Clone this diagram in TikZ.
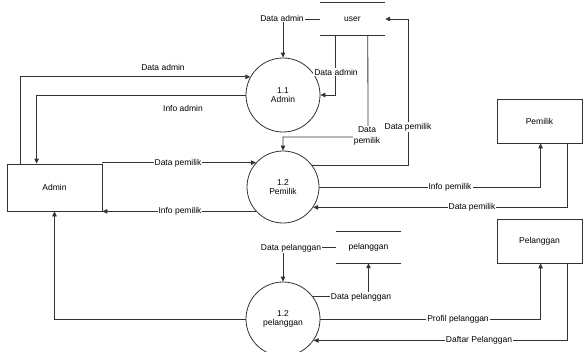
\documentclass[tikz,border=0pt]{standalone}
\usepackage{fontspec}
\setmainfont{Liberation Sans}
\usetikzlibrary{arrows.meta}
\definecolor{ink}{HTML}{333333}
\begin{document}
\begin{tikzpicture}[x=1pt,y=-1pt,
  font=\fontsize{8.5}{9.5}\selectfont,
  proc/.style={circle,draw=ink,line width=0.8pt,minimum size=#1,inner sep=0pt,align=center},
  entity/.style={rectangle,draw=ink,line width=0.8pt,minimum width=85pt,minimum height=44pt,inner sep=0pt},
  store/.style={rectangle,minimum width=65pt,minimum height=#1,inner sep=0pt},
  flow/.style={draw=ink,line width=0.8pt,-{Triangle[length=5pt,width=4.5pt]}},
  lbl/.style={fill=white,inner sep=1pt,align=center}]
\useasboundingbox (0,0) rectangle (583,351);

% processes
\node[proc=74pt] (c11) at (283,95)  {1.1\\Admin};
\node[proc=72pt] (c12) at (283,187) {1.2\\Pemilik};
\node[proc=74pt] (c13) at (283,319) {1.2\\pelanggan};

% external entities
\node[entity,minimum width=95pt,minimum height=47pt] (admin) at (54.5,187.5) {Admin};
\node[entity] (pemilik)   at (539.5,121) {Pemilik};
\node[entity] (pelanggan) at (539.5,241) {Pelanggan};

% data stores
\node[store=32pt] (userstore) at (352.5,19) {user};
\node[store=31pt] (pelstore)  at (368.5,247.5) {pelanggan};
\foreach \s in {userstore,pelstore}{
  \draw[ink,line width=0.8pt] (\s.north west) -- (\s.north east);
  \draw[ink,line width=0.8pt] (\s.south west) -- (\s.south east);
}

% flows of process 1.1
\draw[flow] (userstore.west) -| (c11.north);
\draw[flow] ([xshift=14pt]admin.north west) |- (c11.151);
\draw[flow] (c11.west) -| ([xshift=30pt]admin.north west);
\draw[flow] ([xshift=16pt]userstore.south west) |- (c11.east);

% flows of process 1.2 Pemilik
\coordinate (k5) at (368,137);
\draw[flow] ([xshift=48pt]userstore.south west) -- (k5) -| (c12.north);
\coordinate (k6) at (408,19);
\draw[flow] (c12.36) -| (k6) -- (userstore.east);
\draw[flow] (c12.138 -| admin.east) -- (c12.138);
\draw[flow] (c12.222) -- (c12.222 -| admin.east);
\draw[flow] (c12.east) -| ([xshift=44pt]pemilik.south west);
\draw[flow] ([xshift=71pt]pemilik.south west) |- (c12.326);

% flows of process 1.2 pelanggan
\draw[flow] (pelstore.west) -| (c13.north);
\draw[flow] (c13.37) -| (pelstore.south);
\draw[flow] (c13.east) -| ([xshift=44pt]pelanggan.south west);
\draw[flow] ([xshift=71pt]pelanggan.south west) |- (c13.325);
\draw[flow] (c13.west) -| (admin.south);

% flow labels
\node[lbl] (l1)  at (282,18)  {Data admin};
\node[lbl,fill=none] (l2) at (163,67) {Data admin};
\node[lbl,fill=none] (l3) at (183,108) {Info admin};
\node[lbl] (l4)  at (336,72)  {Data admin};
\node[lbl,inner sep=0.5pt,font=\fontsize{8.5}{11}\selectfont] (l5) at (367,135.5) {Data\\pemilik};
\node[lbl] (l6)  at (408,127) {Data pemilik};
\node[lbl] (l7)  at (178,163) {Data pemilik};
\node[lbl] (l8)  at (180,211) {Info pemilik};
\node[lbl] (l9)  at (450,187) {Info pemilik};
\node[lbl] (l10) at (472,207) {Data pemilik};
\node[lbl] (l11) at (291,248) {Data pelanggan};
\node[lbl] (l12) at (361,297) {Data pelanggan};
\node[lbl] (l13) at (458,319) {Profil pelanggan};
\node[lbl] (l14) at (479,340) {Daftar Pelanggan};
\end{tikzpicture}
\end{document}
